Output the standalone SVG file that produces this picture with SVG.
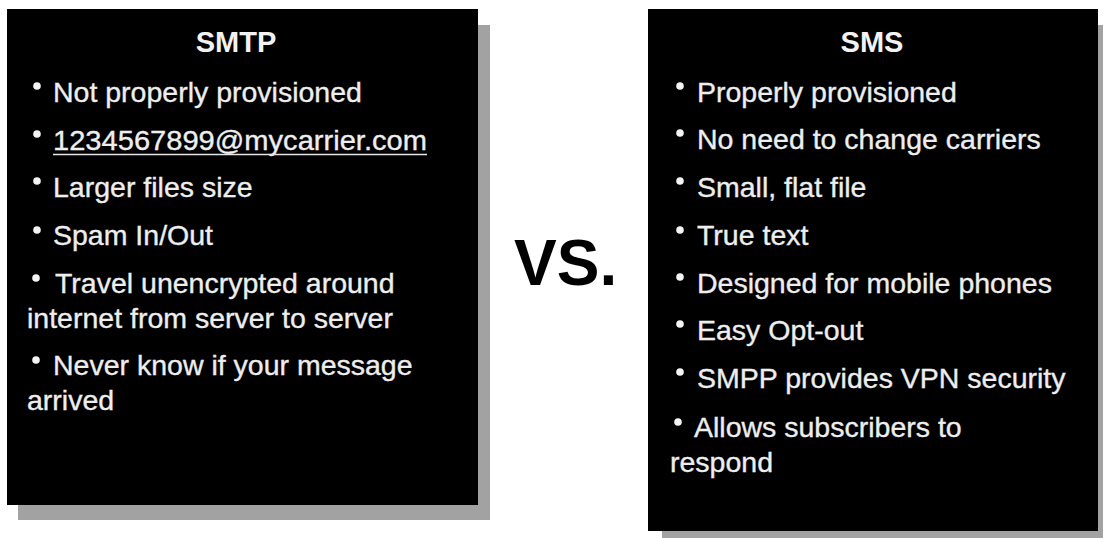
<svg xmlns="http://www.w3.org/2000/svg" width="1103" height="538" viewBox="0 0 1103 538">
  <style>
    .shadow { fill: #a2a2a2; }
    .panel { fill: #000000; }
    .title { font-family: "Liberation Sans", Arial, sans-serif; font-weight: bold; font-size: 29px; fill: #f2f2f2; text-anchor: middle; }
    .item { font-family: "Liberation Sans", Arial, sans-serif; font-size: 28.5px; fill: #eeeeee; stroke: #eeeeee; stroke-width: 0.35; }
    .dot { fill: #f4f4f4; }
    .vs { font-family: "Liberation Sans", Arial, sans-serif; font-weight: bold; font-size: 64px; fill: #000000; }
  </style>
  <rect width="1103" height="538" fill="#ffffff"/>

  <!-- SMTP panel -->
  <g id="smtp">
    <rect class="shadow" x="18" y="25" width="472" height="495"/>
    <rect class="panel" x="7" y="9" width="471" height="496"/>
    <text class="title" x="236" y="52">SMTP</text>
    <circle class="dot" cx="37" cy="86" r="3.8"/>
    <text class="item" x="53" y="102">Not properly provisioned</text>
    <circle class="dot" cx="37" cy="134" r="3.8"/>
    <text class="item" x="53" y="150" textLength="374" lengthAdjust="spacingAndGlyphs">1234567899@mycarrier.com</text>
    <line x1="53" y1="154.5" x2="427" y2="154.5" stroke="#e6e6e6" stroke-width="1.6"/>
    <circle class="dot" cx="37" cy="181" r="3.8"/>
    <text class="item" x="53" y="197">Larger files size</text>
    <circle class="dot" cx="37" cy="230" r="3.8"/>
    <text class="item" x="53" y="245">Spam In/Out</text>
    <circle class="dot" cx="36" cy="278" r="3.8"/>
    <text class="item" x="55" y="293">Travel unencrypted around</text>
    <text class="item" x="27" y="328">internet from server to server</text>
    <circle class="dot" cx="36" cy="360" r="3.8"/>
    <text class="item" x="53" y="375">Never know if your message</text>
    <text class="item" x="27" y="410">arrived</text>
  </g>

  <!-- comparison mark -->
  <g id="versus">
    <text class="vs" x="514" y="285">VS.</text>
  </g>

  <!-- SMS panel -->
  <g id="sms">
    <rect class="shadow" x="662" y="25" width="441" height="513"/>
    <rect class="panel" x="648" y="9" width="450" height="522"/>
    <text class="title" x="872" y="52">SMS</text>
    <circle class="dot" cx="680" cy="86" r="3.8"/>
    <text class="item" x="697" y="102">Properly provisioned</text>
    <circle class="dot" cx="680" cy="133" r="3.8"/>
    <text class="item" x="697" y="149">No need to change carriers</text>
    <circle class="dot" cx="680" cy="181" r="3.8"/>
    <text class="item" x="697" y="197">Small, flat file</text>
    <circle class="dot" cx="680" cy="230" r="3.8"/>
    <text class="item" x="697" y="245">True text</text>
    <circle class="dot" cx="680" cy="277" r="3.8"/>
    <text class="item" x="697" y="293">Designed for mobile phones</text>
    <circle class="dot" cx="680" cy="324" r="3.8"/>
    <text class="item" x="697" y="340">Easy Opt-out</text>
    <circle class="dot" cx="680" cy="372" r="3.8"/>
    <text class="item" x="697" y="388">SMPP provides VPN security</text>
    <circle class="dot" cx="678" cy="422" r="3.8"/>
    <text class="item" x="694" y="437">Allows subscribers to</text>
    <text class="item" x="670" y="472">respond</text>
  </g>
</svg>
